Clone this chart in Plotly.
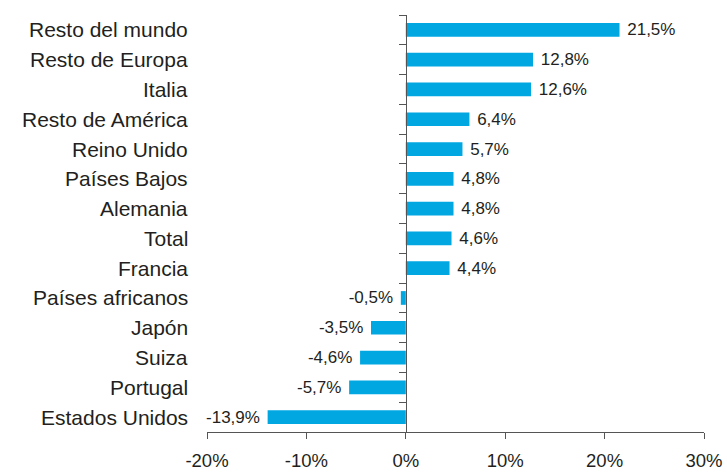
import plotly.graph_objects as go

categories = ["Resto del mundo", "Resto de Europa", "Italia", "Resto de América",
              "Reino Unido", "Países Bajos", "Alemania", "Total", "Francia",
              "Países africanos", "Japón", "Suiza", "Portugal", "Estados Unidos"]
values = [21.5, 12.8, 12.6, 6.4, 5.7, 4.8, 4.8, 4.6, 4.4, -0.5, -3.5, -4.6, -5.7, -13.9]
value_labels = [(" " + f"{v:.1f}%" if v >= 0 else f"{v:.1f}%" + " ").replace(".", ",")
                for v in values]
x_tickvals = [-20, -10, 0, 10, 20, 30]
x_ticktext = ["-20%", "-10%", "0%", "10%", "20%", "30%"]

FONT = "Liberation Sans, Arial, Helvetica, sans-serif"
TEXT = "#231f20"
AXIS = "#555555"
BAR = "#00a7e1"

fig = go.Figure()
fig.add_trace(go.Bar(
    x=values, y=categories, orientation="h",
    marker=dict(color=BAR, line=dict(width=0)),
    text=value_labels, textposition="outside", constraintext="none",
    textfont=dict(family=FONT, size=17, color=TEXT),
    cliponaxis=False, hoverinfo="skip",
))

for c in categories:
    fig.add_annotation(x=0, xref="paper", y=c, yref="y", text=c,
                       showarrow=False, xanchor="right", xshift=-17,
                       font=dict(family=FONT, size=21, color=TEXT))

fig.update_layout(
    width=727, height=473,
    margin=dict(l=207, r=23, t=15, b=41),
    paper_bgcolor="white", plot_bgcolor="white",
    showlegend=False, bargap=0.54,
    xaxis=dict(range=[-20, 30], tickvals=x_tickvals, ticktext=x_ticktext,
               automargin=False, ticklabelstandoff=6,
               showgrid=False, zeroline=False, showline=True, linecolor=AXIS,
               linewidth=1, ticks="outside", ticklen=6, tickcolor=AXIS,
               tickfont=dict(family=FONT, size=18.5, color=TEXT)),
    yaxis=dict(categoryorder="array", categoryarray=categories,
               autorange="reversed", anchor="free", position=0.4,
               automargin=False, layer="above traces",
               showgrid=False, zeroline=False, showline=True, linecolor=AXIS,
               linewidth=1, ticks="outside", ticklen=7, tickcolor=AXIS,
               tickson="boundaries", showticklabels=False),
)

fig.write_html("out.html", config={"displayModeBar": False},
               post_script="document.body.style.margin='0';")
